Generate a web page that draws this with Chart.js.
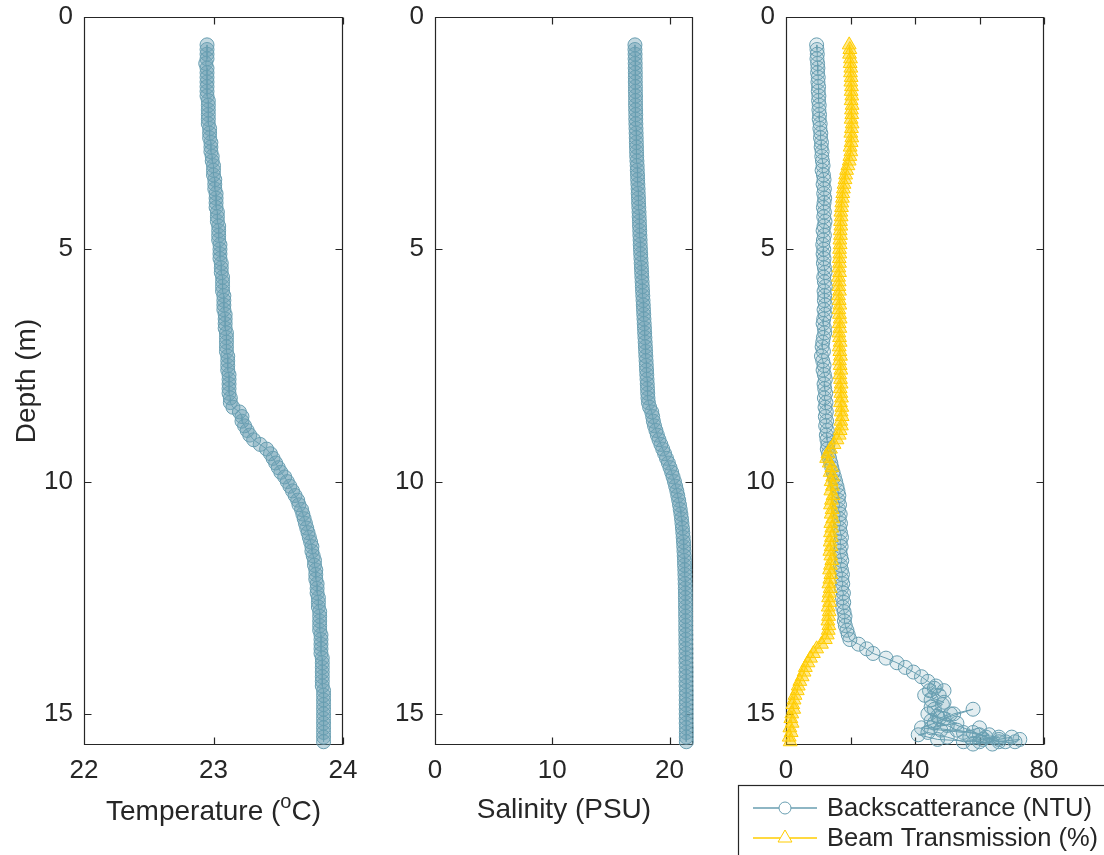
<!DOCTYPE html>
<html>
<head>
<meta charset="utf-8">
<script src="https://cdn.jsdelivr.net/npm/chart.js@4.4.1/dist/chart.umd.min.js"></script>
<style>
  html, body { margin: 0; padding: 0; background: #fff; }
  body { width: 1104px; height: 855px; position: relative; overflow: hidden; }
  canvas { position: absolute; top: 0; }
</style>
</head>
<body>
<canvas id="tempChart" width="380" height="855" style="left:0px"></canvas>
<canvas id="salChart" width="340" height="855" style="left:380px"></canvas>
<canvas id="opticChart" width="384" height="855" style="left:720px"></canvas>
<script>
// CTD cast, depth in metres
var depth = [0.6,0.7,0.8,0.9,1.0,1.1,1.2,1.3,1.4,1.5,1.6,1.7,1.8,1.9,2.0,
  2.1,2.2,2.3,2.4,2.5,2.6,2.7,2.8,2.9,3.0,
  3.1,3.2,3.3,3.4,3.5,3.6,3.7,3.8,3.9,4.0,
  4.1,4.2,4.3,4.4,4.5,4.6,4.7,4.8,4.9,5.0,
  5.1,5.2,5.3,5.4,5.5,5.6,5.7,5.8,5.9,6.0,
  6.1,6.2,6.3,6.4,6.5,6.6,6.7,6.8,6.9,7.0,
  7.1,7.2,7.3,7.4,7.5,7.6,7.7,7.8,7.9,8.0,
  8.1,8.2,8.3,8.4,8.5,8.6,8.7,8.8,8.9,9.0,
  9.1,9.2,9.3,9.4,9.5,9.6,9.7,9.8,9.9,10.0,
  10.1,10.2,10.3,10.4,10.5,10.6,10.7,10.8,10.9,11.0,
  11.1,11.2,11.3,11.4,11.5,11.6,11.7,11.8,11.9,12.0,
  12.1,12.2,12.3,12.4,12.5,12.6,12.7,12.8,12.9,13.0,
  13.1,13.2,13.3,13.4,13.5,13.6,13.7,13.8,13.9,14.0,
  14.1,14.2,14.3,14.4,14.5,14.6,14.7,14.8,14.9,15.0,
  15.1,15.2,15.3,15.4,15.5,15.6];

var temperature = [22.95,22.95,22.95,22.95,22.94,22.95,22.95,22.95,22.95,22.95,22.95,22.95,22.96,22.96,22.96,
  22.96,22.96,22.96,22.97,22.97,22.97,22.98,22.98,22.98,22.99,
  22.99,23.00,23.00,23.00,23.01,23.01,23.01,23.02,23.02,23.02,
  23.02,23.03,23.03,23.03,23.04,23.04,23.04,23.04,23.05,23.05,
  23.05,23.05,23.06,23.06,23.06,23.07,23.07,23.07,23.07,23.08,
  23.08,23.08,23.08,23.09,23.09,23.09,23.09,23.10,23.10,23.10,
  23.10,23.10,23.11,23.11,23.11,23.11,23.12,23.12,23.12,23.12,
  23.12,23.13,23.13,23.15,23.20,23.22,23.22,23.24,23.26,23.28,
  23.31,23.36,23.41,23.44,23.46,23.48,23.50,23.52,23.55,23.57,
  23.59,23.61,23.63,23.65,23.66,23.68,23.69,23.70,23.71,23.72,
  23.73,23.74,23.75,23.76,23.76,23.77,23.78,23.78,23.79,23.79,
  23.79,23.80,23.80,23.80,23.81,23.81,23.81,23.82,23.82,23.82,
  23.82,23.82,23.83,23.83,23.83,23.83,23.83,23.84,23.84,23.84,
  23.84,23.84,23.84,23.84,23.85,23.85,23.85,23.85,23.85,23.85,
  23.85,23.85,23.85,23.85,23.85,23.85];

var salinity = [17.05,17.05,17.06,17.06,17.07,17.07,17.08,17.08,17.08,17.09,17.09,17.10,17.10,17.10,17.11,
  17.12,17.12,17.13,17.14,17.15,17.16,17.17,17.18,17.19,17.20,
  17.22,17.24,17.25,17.27,17.28,17.30,17.32,17.33,17.35,17.36,
  17.38,17.40,17.41,17.43,17.44,17.46,17.47,17.49,17.50,17.52,
  17.54,17.56,17.58,17.60,17.62,17.64,17.66,17.68,17.70,17.72,
  17.74,17.76,17.78,17.80,17.82,17.84,17.86,17.88,17.90,17.92,
  17.94,17.96,17.98,18.00,18.02,18.04,18.06,18.08,18.10,18.12,
  18.14,18.16,18.20,18.30,18.48,18.56,18.62,18.72,18.84,18.96,
  19.10,19.26,19.42,19.58,19.74,19.90,20.04,20.18,20.30,20.42,
  20.52,20.62,20.70,20.78,20.85,20.91,20.97,21.02,21.06,21.10,
  21.13,21.16,21.19,21.21,21.23,21.25,21.27,21.28,21.30,21.31,
  21.32,21.33,21.34,21.35,21.35,21.36,21.36,21.37,21.37,21.38,
  21.38,21.38,21.39,21.39,21.39,21.40,21.40,21.40,21.40,21.41,
  21.41,21.41,21.41,21.41,21.42,21.42,21.42,21.42,21.42,21.42,
  21.42,21.42,21.43,21.43,21.43,21.43];

var backscatter = [9.5,9.6,9.7,9.6,9.8,9.9,9.8,10.0,9.9,10.1,10.0,10.2,10.1,10.3,10.2,
  10.4,10.3,10.6,10.5,10.8,10.7,11.0,10.9,11.2,11.1,
  11.3,11.5,11.2,11.6,11.8,11.5,11.9,11.7,12.0,11.8,
  11.6,11.9,11.7,12.1,11.8,11.5,11.9,11.6,11.4,11.7,
  11.5,11.8,11.6,11.9,12.1,11.7,11.9,12.2,11.8,12.0,
  11.9,12.2,11.8,12.1,11.7,11.5,11.9,12.0,11.6,11.4,
  11.2,11.6,11.0,11.4,11.8,11.5,11.9,12.2,11.8,12.0,
  12.3,11.9,12.4,12.1,12.5,12.2,12.6,12.3,12.8,12.5,
  12.7,13.0,12.8,13.2,13.5,13.9,14.2,14.6,15.0,15.4,
  15.8,16.1,16.4,16.2,16.6,16.3,16.8,16.5,16.9,16.6,
  16.9,17.2,16.8,17.1,16.7,17.0,17.3,16.9,17.2,17.5,
  17.3,17.6,17.2,17.8,17.5,17.9,17.6,18.0,18.3,18.1,
  18.4,18.9,19.3,19.8,22.5,25.0,27.0,31.0,34.4,37.0,
  39.5,42.0,44.0,46.5,44.5,47.5,45.0,48.5,46.0,51.0,
  47.5,53.0,45.0,58.0,62.0,66.0];

// sensor bouncing near the bed at the end of the cast
var backscatterTailDepth = [15.0,15.1,14.9,15.0,15.2,15.3,15.35,15.4,15.3,15.45,15.5,15.55,15.5,15.6,15.55,15.6,15.5,15.4,
  15.45,15.55,15.6,15.65,15.6,15.55,15.65,15.5,15.45,15.35,15.25,15.15,15.05,14.85,14.75,14.6,14.45,14.5];
var backscatterTail = [44,49,58,52,46,42,48,55,60,63,57,66,70,68,61,55,50,44,
  41,47,60,64,71,72.5,58,66,60,53,50,45,47,45,49,43,46,49];

var transmission = [19.6,19.8,19.7,20.0,19.9,20.1,20.0,20.2,20.1,20.3,20.2,20.4,20.2,20.5,20.3,
  20.4,20.2,20.5,20.3,20.1,20.4,20.2,19.9,20.1,19.8,
  19.6,19.2,18.8,18.5,18.3,18.0,17.8,17.6,17.5,17.3,
  17.2,17.0,17.1,16.9,17.0,16.8,16.9,16.7,16.8,16.6,
  16.7,16.5,16.6,16.4,16.6,16.3,16.5,16.4,16.6,16.3,
  16.5,16.7,16.4,16.6,16.8,16.5,16.7,16.4,16.6,16.8,
  16.5,16.7,16.9,16.6,16.8,17.0,16.7,16.9,17.1,16.8,
  17.0,17.2,16.9,17.3,17.1,17.4,17.0,17.2,16.8,16.5,
  15.8,14.9,13.8,13.0,12.6,13.4,14.2,13.7,14.5,14.0,
  14.4,13.9,14.6,14.1,13.8,14.3,14.0,14.5,13.9,14.2,
  13.8,14.1,13.7,14.0,13.6,13.9,14.2,13.8,13.5,13.9,
  13.6,13.3,13.7,13.4,13.2,13.5,13.1,13.4,13.2,13.0,
  13.3,13.1,12.8,12.2,11.0,9.5,8.5,7.6,6.8,6.0,
  5.6,5.0,4.3,3.8,3.5,2.8,2.5,2.1,2.4,1.8,
  1.5,1.9,1.2,1.6,1.0,1.3];

var depthTicks = [0, 5, 10, 15];
var depthMax = 15.67;
var tempTicks = [22, 23, 24];
var salTicks = [0, 10, 20];
var opticTicks = [0, 20, 40, 60, 80];
var opticTickLabels = ['0', '', '40', '', '80'];

var teal = 'rgb(104,158,177)';
var tealFill = 'rgba(104,158,177,0.4)';
var gold = 'rgb(255,204,0)';
var goldFill = 'rgba(255,204,0,0.45)';
var ink = '#262626';
var fontFamily = '"Liberation Sans", Arial, Helvetica, sans-serif';

Chart.defaults.font.family = fontFamily;
Chart.defaults.font.size = 26;
Chart.defaults.color = ink;

function toPoints(xs, ys) {
  return xs.map(function (v, i) { return { x: v, y: ys[i] }; });
}

// box round the plot area with inward ticks on all four sides
var framePlugin = {
  id: 'frame',
  beforeDatasetsDraw: function (chart) {
    var a = chart.chartArea, ctx = chart.ctx;
    var xs = chart.scales.x, ys = chart.scales.y;
    var L = Math.round(a.left) + 0.5, R = Math.round(a.right) - 0.5;
    var T = Math.round(a.top) + 0.5, B = Math.round(a.bottom) - 0.5;
    var len = 7;
    ctx.save();
    ctx.strokeStyle = ink;
    ctx.lineWidth = 1.2;
    ctx.beginPath();
    ctx.rect(L, T, R - L, B - T);
    xs.ticks.forEach(function (t) {
      var px = Math.round(xs.getPixelForValue(t.value)) + 0.5;
      ctx.moveTo(px, B); ctx.lineTo(px, B - len);
      ctx.moveTo(px, T); ctx.lineTo(px, T + len);
    });
    ys.ticks.forEach(function (t) {
      var py = Math.round(ys.getPixelForValue(t.value)) + 0.5;
      ctx.moveTo(L, py); ctx.lineTo(L + len, py);
      ctx.moveTo(R, py); ctx.lineTo(R - len, py);
    });
    ctx.stroke();
    ctx.restore();
  }
};

// x title with a superscript degree "o"
var tempTitlePlugin = {
  id: 'tempTitle',
  afterDraw: function (chart) {
    var ctx = chart.ctx, a = chart.chartArea;
    var big = '28px ' + fontFamily, small = '20px ' + fontFamily;
    var p1 = 'Temperature (', p2 = 'o', p3 = 'C)';
    ctx.save();
    ctx.fillStyle = ink;
    ctx.textBaseline = 'alphabetic';
    ctx.textAlign = 'left';
    ctx.font = big;
    var w1 = ctx.measureText(p1).width, w3 = ctx.measureText(p3).width;
    ctx.font = small;
    var w2 = ctx.measureText(p2).width;
    var x = (a.left + a.right) / 2 - (w1 + w2 + w3) / 2;
    var base = 820;
    ctx.font = big;
    ctx.fillText(p1, x, base);
    ctx.font = small;
    ctx.fillText(p2, x + w1, base - 12);
    ctx.font = big;
    ctx.fillText(p3, x + w1 + w2, base);
    ctx.restore();
  }
};

// legend box below the optics panel
var opticLegendPlugin = {
  id: 'opticLegend',
  afterDraw: function (chart) {
    var ctx = chart.ctx;
    ctx.save();
    ctx.strokeStyle = ink;
    ctx.lineWidth = 1.2;
    ctx.strokeRect(18.5, 785.5, 500, 200);
    var rows = [808, 838];
    chart.data.datasets.forEach(function (ds, i) {
      var y = rows[i];
      ctx.strokeStyle = ds.borderColor;
      ctx.lineWidth = 1.5;
      ctx.beginPath();
      ctx.moveTo(33, y); ctx.lineTo(97, y);
      ctx.stroke();
      ctx.lineWidth = 1;
      ctx.fillStyle = '#fff';
      ctx.beginPath();
      if (ds.pointStyle === 'triangle') {
        var r = ds.pointRadius;
        ctx.moveTo(65, y - r);
        ctx.lineTo(65 + r * 0.866, y + r / 2);
        ctx.lineTo(65 - r * 0.866, y + r / 2);
        ctx.closePath();
      } else {
        ctx.arc(65, y, 6, 0, Math.PI * 2);
      }
      ctx.fill();
      ctx.stroke();
      ctx.fillStyle = ink;
      ctx.font = '25.5px ' + fontFamily;
      ctx.textBaseline = 'middle';
      ctx.textAlign = 'left';
      ctx.fillText(ds.label, 107, y + 1);
    });
    ctx.restore();
  }
};

function profileOptions(cfg) {
  return {
    responsive: false,
    animation: false,
    layout: { padding: { left: 0, top: 17, right: cfg.padRight, bottom: 0 } },
    plugins: { legend: { display: false }, tooltip: { enabled: false } },
    scales: {
      x: {
        type: 'linear',
        min: cfg.xMin,
        max: cfg.xMax,
        grid: { display: false, drawTicks: false },
        border: { display: false },
        afterBuildTicks: function (scale) {
          scale.ticks = cfg.xTicks.map(function (v) { return { value: v }; });
        },
        afterFit: function (scale) {
          scale.height = 110;
          scale.paddingLeft = 0;
          scale.paddingRight = 0;
        },
        ticks: {
          autoSkip: false,
          maxRotation: 0,
          padding: 10,
          callback: function (v, i) { return cfg.xLabels ? cfg.xLabels[i] : String(v); }
        },
        title: {
          display: !!cfg.xTitle,
          text: cfg.xTitle || '',
          font: { size: 28 },
          padding: { top: 0, bottom: 28 }
        }
      },
      y: {
        type: 'linear',
        reverse: true,
        min: 0,
        max: depthMax,
        grid: { display: false, drawTicks: false },
        border: { display: false },
        afterBuildTicks: function (scale) {
          scale.ticks = depthTicks.map(function (v) { return { value: v }; });
        },
        afterFit: function (scale) {
          scale.width = cfg.yWidth;
          scale.paddingTop = 0;
          scale.paddingBottom = 0;
        },
        ticks: { autoSkip: false, padding: 11 },
        title: {
          display: !!cfg.yTitle,
          text: cfg.yTitle || '',
          font: { size: 28 },
          padding: { top: 10, bottom: 0 }
        }
      }
    }
  };
}

function profileSet(label, xs, ys, color, fill, style, radius) {
  return {
    label: label,
    data: toPoints(xs, ys),
    showLine: true,
    borderColor: color,
    backgroundColor: 'rgba(0,0,0,0)',
    borderWidth: 1,
    pointStyle: style,
    pointRadius: radius,
    pointBorderWidth: 1,
    pointBorderColor: color,
    pointBackgroundColor: fill,
    clip: false
  };
}

new Chart(document.getElementById('tempChart'), {
  type: 'scatter',
  data: { datasets: [profileSet('Temperature', temperature, depth, teal, tealFill, 'circle', 7)] },
  options: profileOptions({ xMin: 22, xMax: 24, xTicks: tempTicks, yWidth: 84, padRight: 37, yTitle: 'Depth (m)' }),
  plugins: [framePlugin, tempTitlePlugin]
});

new Chart(document.getElementById('salChart'), {
  type: 'scatter',
  data: { datasets: [profileSet('Salinity', salinity, depth, teal, tealFill, 'circle', 7)] },
  options: profileOptions({ xMin: 0, xMax: 22, xTicks: salTicks, yWidth: 55, padRight: 27, xTitle: 'Salinity (PSU)' }),
  plugins: [framePlugin]
});

var bsSet = profileSet('Backscatterance (NTU)', backscatter.concat(backscatterTail),
  depth.concat(backscatterTailDepth), teal, 'rgba(104,158,177,0.18)', 'circle', 7);
bsSet.order = 1;
var btSet = profileSet('Beam Transmission (%)', transmission, depth, gold, goldFill, 'triangle', 8);
btSet.order = 0;

new Chart(document.getElementById('opticChart'), {
  type: 'scatter',
  data: { datasets: [bsSet, btSet] },
  options: profileOptions({ xMin: 0, xMax: 80, xTicks: opticTicks, xLabels: opticTickLabels, yWidth: 66, padRight: 60 }),
  plugins: [framePlugin, opticLegendPlugin]
});
</script>
</body>
</html>
